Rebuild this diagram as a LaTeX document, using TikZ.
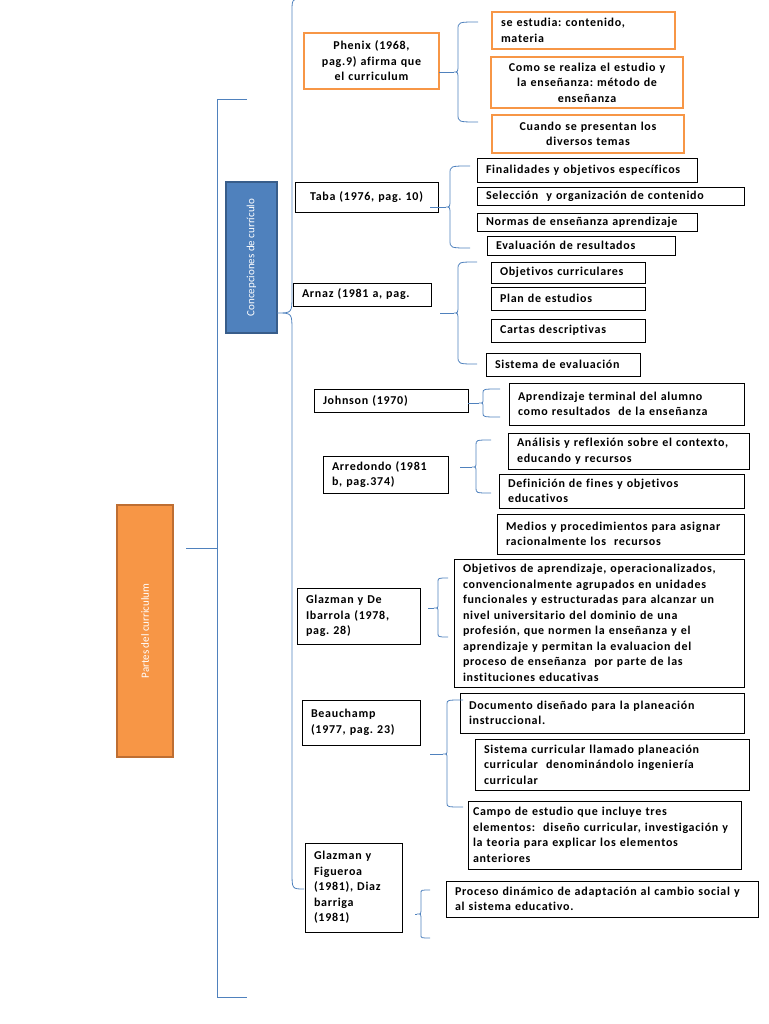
\documentclass[tikz,border=0pt]{standalone}
\usepackage{fontspec}
\setmainfont{Carlito}[LetterSpace=6, Ligatures=NoCommon]
\usepackage{xcolor}
\definecolor{azul}{RGB}{79,129,189}
\definecolor{azulborde}{RGB}{56,93,138}
\definecolor{naranja}{RGB}{247,150,70}
\definecolor{naranjaborde}{RGB}{190,110,50}
\frenchspacing

% llave: inicio, x, fin, arriba, medio, abajo, radio
\newcommand{\llave}[7]{%
  \draw[linea] (#1,#5) -- (#2-4,#5);
  \draw[linea] (#3,#4) .. controls (#2,#4) .. (#2,#4+#7) -- (#2,#5-#7)
    .. controls (#2,#5) .. (#2-4,#5) .. controls (#2,#5) .. (#2,#5+#7)
    -- (#2,#6-#7) .. controls (#2,#6) .. (#3,#6);}

\begin{document}
\begin{tikzpicture}[x=1pt, y=-1pt,
  every node/.style = {inner xsep=9pt, inner ysep=1pt, outer sep=0pt},
  caja/.style = {draw, anchor=north west, align=left, line width=0.8pt,
    font=\bfseries\fontsize{12}{15.5}\selectfont},
  cajanar/.style = {caja, draw=naranja, line width=2pt},
  linea/.style = {draw=azul, line width=0.8pt},
  bloque/.style = {rotate=90, text=white, line width=1.5pt}]
  \useasboundingbox (0,0) rectangle (768,1024);

  \node[bloque, fill=naranja, draw=naranjaborde, minimum width=252, minimum height=56,
    font=\fontsize{11}{12}\selectfont\addfontfeature{LetterSpace=0}]
    (partes) at (145,631) {Partes del curriculum};
  \node[bloque, fill=azul, draw=azulborde, minimum width=151, minimum height=51,
    font=\fontsize{11}{12}\selectfont\addfontfeature{LetterSpace=0}]
    (concep) at (251.5,257.5) {Concepciones de currículo};

  \draw[linea] (186,548) -- (217,548);
  \draw[linea] (247,99) -- (217,99) -- (217,997) -- (247,997);
  \draw[linea] (300,-3) .. controls (292,0) .. (292,12) -- (292,295)
    .. controls (292,313) .. (277,313) .. controls (292,313) .. (292,331)
    -- (292,872) .. controls (292,889) .. (304,889);

  \node[caja, draw=naranja, line width=1.3pt, align=center, text width=117,
    minimum width=127, minimum height=56] (phenix) at (304,33)
    {Phenix (1968,\\pag.9) afirma que\\el curriculum};
  \node[cajanar, text width=165, minimum width=183, minimum height=37] (estudia) at (492,12)
    {se estudia: contenido,\\materia};
  \node[cajanar, align=center, text width=174, minimum width=184, minimum height=51] (realiza) at (491,57)
    {Como se realiza el estudio y\\la enseñanza: método de\\enseñanza};
  \node[cajanar, align=center, text width=174, minimum width=184, minimum height=38] (cuando) at (492,115)
    {Cuando se presentan los\\diversos temas};
  \llave{439}{458}{478}{22}{72}{122}{8}

  \node[caja, align=center, text width=125, minimum width=135, minimum height=30] (taba) at (295,182)
    {Taba (1976, pag. 10)};
  \node[caja, text width=202, minimum width=220, minimum height=24] (fin) at (477,158)
    {Finalidades y objetivos específicos};
  \node[caja, text width=249, minimum width=267, minimum height=18] (sel) at (477,187)
    {Selección~ y organización de contenido};
  \node[caja, text width=202, minimum width=220, minimum height=18] (normas) at (477,213)
    {Normas de enseñanza aprendizaje};
  \node[caja, text width=170, minimum width=188, minimum height=19] (evalres) at (487,236)
    {Evaluación de resultados};
  \llave{430}{450}{470}{166}{207}{248}{8}

  \node[caja, text width=120, minimum width=138, minimum height=23] (arnaz) at (293,283)
    {Arnaz (1981 a, pag.};
  \node[caja, text width=136, minimum width=154, minimum height=21] (objcur) at (491,262)
    {Objetivos curriculares};
  \node[caja, text width=136, minimum width=154, minimum height=23] (plan) at (491,287)
    {Plan de estudios};
  \node[caja, text width=136, minimum width=154, minimum height=23] (cartas) at (491,319)
    {Cartas descriptivas};
  \node[caja, text width=136, minimum width=154, minimum height=23] (sisteval) at (486,353)
    {Sistema de evaluación};
  \llave{440}{458}{477}{262}{313}{364}{8}

  \node[caja, text width=136, minimum width=154, minimum height=23] (johnson) at (314,389)
    {Johnson (1970)};
  \node[caja, text width=217, minimum width=235, minimum height=42] (aprend) at (509,383)
    {Aprendizaje terminal del alumno\\como resultados~ de la enseñanza};
  \llave{468}{483}{500}{389}{403}{417}{4}

  \node[caja, text width=107, minimum width=125, minimum height=37] (arredondo) at (323,456)
    {Arredondo (1981\\b, pag.374)};
  \node[caja, text width=223, minimum width=241, minimum height=36] (analisis) at (508,433)
    {Análisis y reflexión sobre el contexto,\\educando y recursos};
  \node[caja, text width=227, minimum width=245, minimum height=34] (definicion) at (499,474)
    {Definición de fines y objetivos\\educativos};
  \node[caja, text width=229, minimum width=247, minimum height=40] (medios) at (497,514)
    {Medios y procedimientos para asignar\\racionalmente los~ recursos};
  \llave{460}{476}{491}{440}{467}{493}{5}

  \node[caja, text width=105, minimum width=123, minimum height=56] (glazde) at (297,588)
    {Glazman y De\\Ibarrola (1978,\\pag. 28)};
  \node[caja, text width=272, minimum width=290, minimum height=128] (objap) at (454,559)
    {Objetivos de aprendizaje, operacionalizados,\\convencionalmente agrupados en unidades\\
     funcionales y estructuradas para alcanzar un\\nivel universitario del dominio de una\\
     profesión, que normen la enseñanza y el\\aprendizaje y permitan la evaluacion del\\
     proceso de enseñanza~ por parte de las\\instituciones educativas};
  \llave{428}{438}{448}{578}{608}{637}{4}

  \node[caja, text width=100, minimum width=118, minimum height=45] (beau) at (302,700)
    {Beauchamp\\(1977, pag. 23)};
  \node[caja, text width=266, minimum width=284, minimum height=40] (doc) at (460,693)
    {Documento diseñado para la planeación\\instruccional.};
  \node[caja, text width=256, minimum width=274, minimum height=51] (sistcurr) at (475,739)
    {Sistema curricular llamado planeación\\curricular~ denominándolo ingeniería\\curricular};
  \node[caja, inner xsep=5pt, text width=263, minimum width=273, minimum height=68] (campo) at (468,801)
    {Campo de estudio que incluye tres\\elementos:~ diseño curricular, investigación y\\
     la teoria para explicar los elementos\\anteriores};
  \llave{430}{447}{463}{700}{754}{807}{4}

  \node[caja, text width=79, minimum width=97, minimum height=89] (glazfig) at (305,843)
    {Glazman y\\Figueroa\\(1981), Diaz\\barriga\\(1981)};
  \node[caja, text width=294, minimum width=312, minimum height=36] (proceso) at (446,881)
    {Proceso dinámico de adaptación al cambio social y\\al sistema educativo.};
  \llave{415}{421}{430}{890}{914}{938}{3}
\end{tikzpicture}
\end{document}
